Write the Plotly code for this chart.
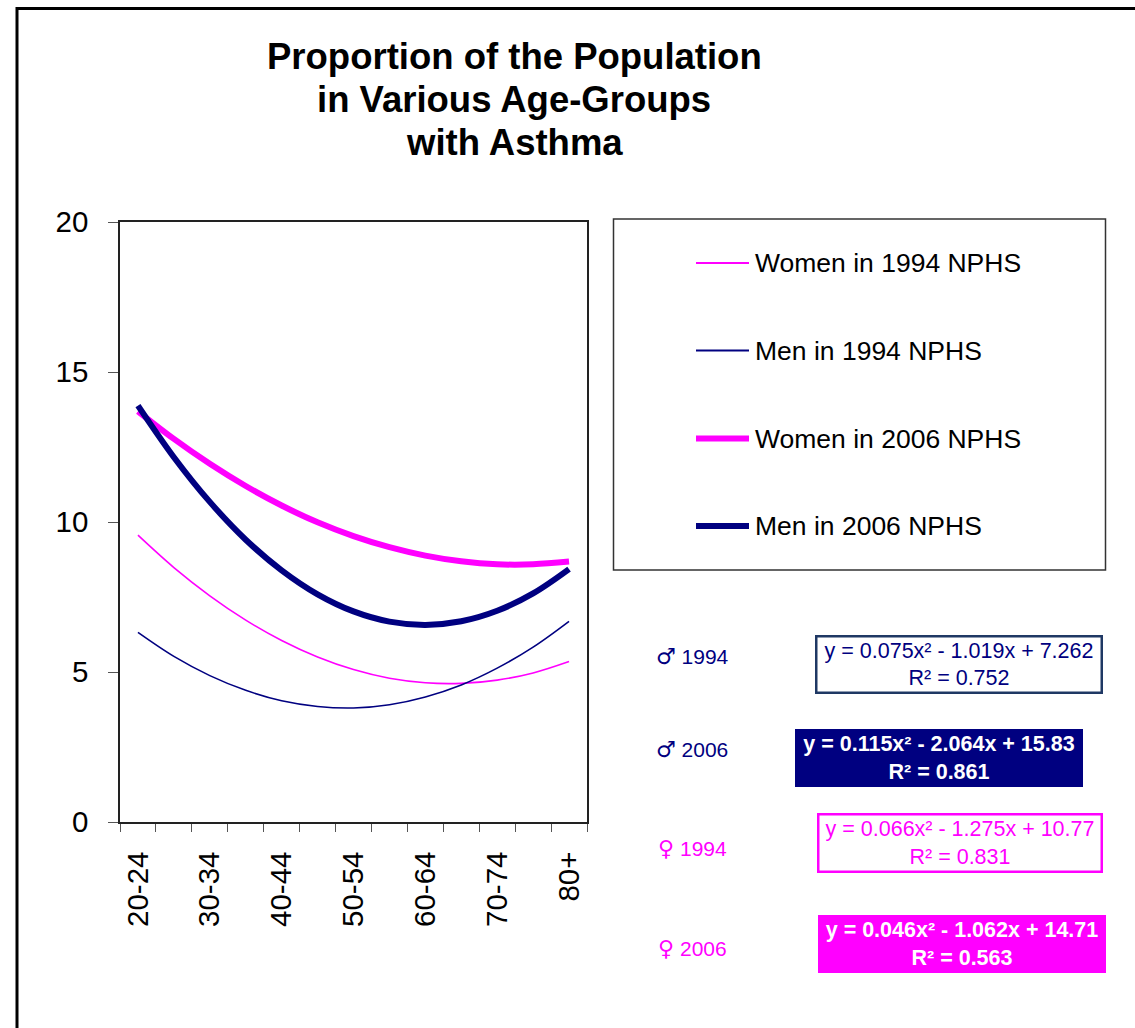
import plotly.graph_objects as go

# ---------------- data ----------------
AGE_GROUPS = ["20-24", "25-29", "30-34", "35-39", "40-44", "45-49", "50-54",
              "55-59", "60-64", "65-69", "70-74", "75-79", "80+"]
SHOWN_LABELS = ["20-24", "30-34", "40-44", "50-54", "60-64", "70-74", "80+"]

WOMEN_1994 = [9.56, 8.48, 7.54, 6.73, 6.05, 5.50, 5.08, 4.79, 4.64, 4.62, 4.73, 4.97, 5.35]
MEN_1994 = [6.32, 5.52, 4.88, 4.39, 4.04, 3.85, 3.80, 3.91, 4.17, 4.57, 5.13, 5.83, 6.69]
WOMEN_2006 = [13.69, 12.77, 11.94, 11.20, 10.55, 9.99, 9.53, 9.16, 8.88, 8.69, 8.59, 8.59, 8.68]
MEN_2006 = [13.88, 12.16, 10.67, 9.41, 8.39, 7.59, 7.02, 6.68, 6.57, 6.69, 7.04, 7.62, 8.43]

SERIES_NAMES = ["Women in 1994 NPHS", "Men in 1994 NPHS", "Women in 2006 NPHS", "Men in 2006 NPHS"]

EQ_SYMBOLS = ["\u2642", "\u2642", "\u2640", "\u2640"]
EQ_YEARS = ["1994", "2006", "1994", "2006"]
EQ_TEXTS = [
    "y = 0.075x\u00b2 - 1.019x + 7.262<br>R\u00b2 = 0.752",
    "<b>y = 0.115x\u00b2 - 2.064x + 15.83<br>R\u00b2 = 0.861</b>",
    "y = 0.066x\u00b2 - 1.275x + 10.77<br>R\u00b2 = 0.831",
    "<b>y = 0.046x\u00b2 - 1.062x + 14.71<br>R\u00b2 = 0.563</b>",
]
TITLE_LINES = ["Proportion of the Population", "in Various Age-Groups", "with Asthma"]

# ---------------- styling ----------------
NAVY = "#000080"
MAGENTA = "#FF00FF"
FONT = "Arial, Liberation Sans, sans-serif"
W, H = 1135, 1028
L, R, T, B = 120, 587, 222, 822


def px(x):
    return (x - L) / (R - L)


def py(y):
    return (B - y) / (B - T)


fig = go.Figure()
series = [WOMEN_1994, MEN_1994, WOMEN_2006, MEN_2006]
colors = [MAGENTA, NAVY, MAGENTA, NAVY]
widths = [1.6, 1.6, 6, 6]
for name, vals, c, w in zip(SERIES_NAMES, series, colors, widths):
    fig.add_trace(go.Scatter(
        x=AGE_GROUPS, y=vals, name=name, mode="lines",
        line=dict(color=c, width=w, shape="spline", smoothing=1.0),
        showlegend=False, hoverinfo="x+y+name",
    ))

ticktext = [g if g in SHOWN_LABELS else "" for g in AGE_GROUPS]

fig.update_layout(
    width=W, height=H,
    margin=dict(l=L, r=W - R, t=T, b=H - B, pad=0),
    paper_bgcolor="white", plot_bgcolor="white",
    font=dict(family=FONT, color="black"),
    xaxis=dict(
        type="category", categoryorder="array", categoryarray=AGE_GROUPS,
        tickmode="array", tickvals=AGE_GROUPS, ticktext=ticktext,
        tickson="boundaries", ticks="outside", ticklen=8, tickcolor="#555",
        tickangle=-90, tickfont=dict(size=29.5, family=FONT, color="black"),
        ticklabelstandoff=16,
        showline=True, linecolor="#222", linewidth=1.5, mirror=True,
        showgrid=False, zeroline=False, range=[-0.5, 12.5],
    ),
    yaxis=dict(
        range=[0, 20], tickmode="linear", tick0=0, dtick=5,
        ticks="outside", ticklen=10, tickcolor="#555",
        tickfont=dict(size=29.5, family=FONT, color="black"),
        ticklabelstandoff=14,
        showline=True, linecolor="#222", linewidth=1.5, mirror=True,
        showgrid=False, zeroline=False,
    ),
)

shapes = []
# outer chart frame (extends beyond canvas on right/bottom)
shapes.append(dict(type="rect", xref="paper", yref="paper",
                   x0=px(17), x1=px(1145), y0=py(1040), y1=py(8.5),
                   line=dict(color="black", width=3), fillcolor="rgba(0,0,0,0)", layer="below"))
# legend box
shapes.append(dict(type="rect", xref="paper", yref="paper",
                   x0=px(613.5), x1=px(1105.5), y0=py(570), y1=py(219),
                   line=dict(color="#333", width=1.5), fillcolor="white", layer="below"))

annotations = []
legend_y = [263, 350.5, 438.5, 526]
for name, c, w, ly in zip(SERIES_NAMES, colors, widths, legend_y):
    shapes.append(dict(type="line", xref="paper", yref="paper",
                       x0=px(696), x1=px(749), y0=py(ly), y1=py(ly),
                       line=dict(color=c, width=w if w > 2 else 2)))
    annotations.append(dict(xref="paper", yref="paper", x=px(753), y=py(ly),
                            xanchor="left", yanchor="middle", text=name, showarrow=False,
                            font=dict(size=26.5, family=FONT, color="black")))

# title lines
title_y = [56, 99.5, 142.5]
for line, ty in zip(TITLE_LINES, title_y):
    annotations.append(dict(xref="paper", yref="paper", x=px(514), y=py(ty),
                            xanchor="center", yanchor="middle", text="<b>" + line + "</b>",
                            showarrow=False, font=dict(size=36.5, family=FONT, color="black")))

# equation labels and boxes
label_y = [656, 749, 848, 948]
label_colors = [NAVY, NAVY, MAGENTA, MAGENTA]
for sym, yr, c, ly in zip(EQ_SYMBOLS, EQ_YEARS, label_colors, label_y):
    lab = ('<span style="font-family:DejaVu Sans;font-size:22px">' + sym + '</span> ' + yr)
    annotations.append(dict(xref="paper", yref="paper", x=px(692), y=py(ly),
                            xanchor="center", yanchor="middle", text=lab, showarrow=False,
                            font=dict(size=21, family=FONT, color=c)))

boxes = [
    dict(cx=958.5, cy=664, w=287, h=58, bg="white", border="#1F3864", fc=NAVY),
    dict(cx=938.5, cy=757.5, w=287, h=57, bg=NAVY, border=NAVY, fc="white"),
    dict(cx=959.5, cy=842.5, w=285, h=59, bg="white", border=MAGENTA, fc=MAGENTA),
    dict(cx=961.5, cy=943.5, w=287, h=57, bg=MAGENTA, border=MAGENTA, fc="white"),
]
for txt, bx in zip(EQ_TEXTS, boxes):
    annotations.append(dict(xref="paper", yref="paper", x=px(bx["cx"]), y=py(bx["cy"]),
                            xanchor="center", yanchor="middle", text=txt, showarrow=False,
                            width=bx["w"] - 6, height=bx["h"] - 6, align="center", valign="middle",
                            bgcolor=bx["bg"], bordercolor=bx["border"], borderwidth=2.5, borderpad=1,
                            font=dict(size=21.5, family=FONT, color=bx["fc"])))

fig.update_layout(shapes=shapes, annotations=annotations)
fig.write_html("out.html", config={"displayModeBar": False},
               post_script="document.body.style.margin='0';document.body.style.overflow='hidden';")
